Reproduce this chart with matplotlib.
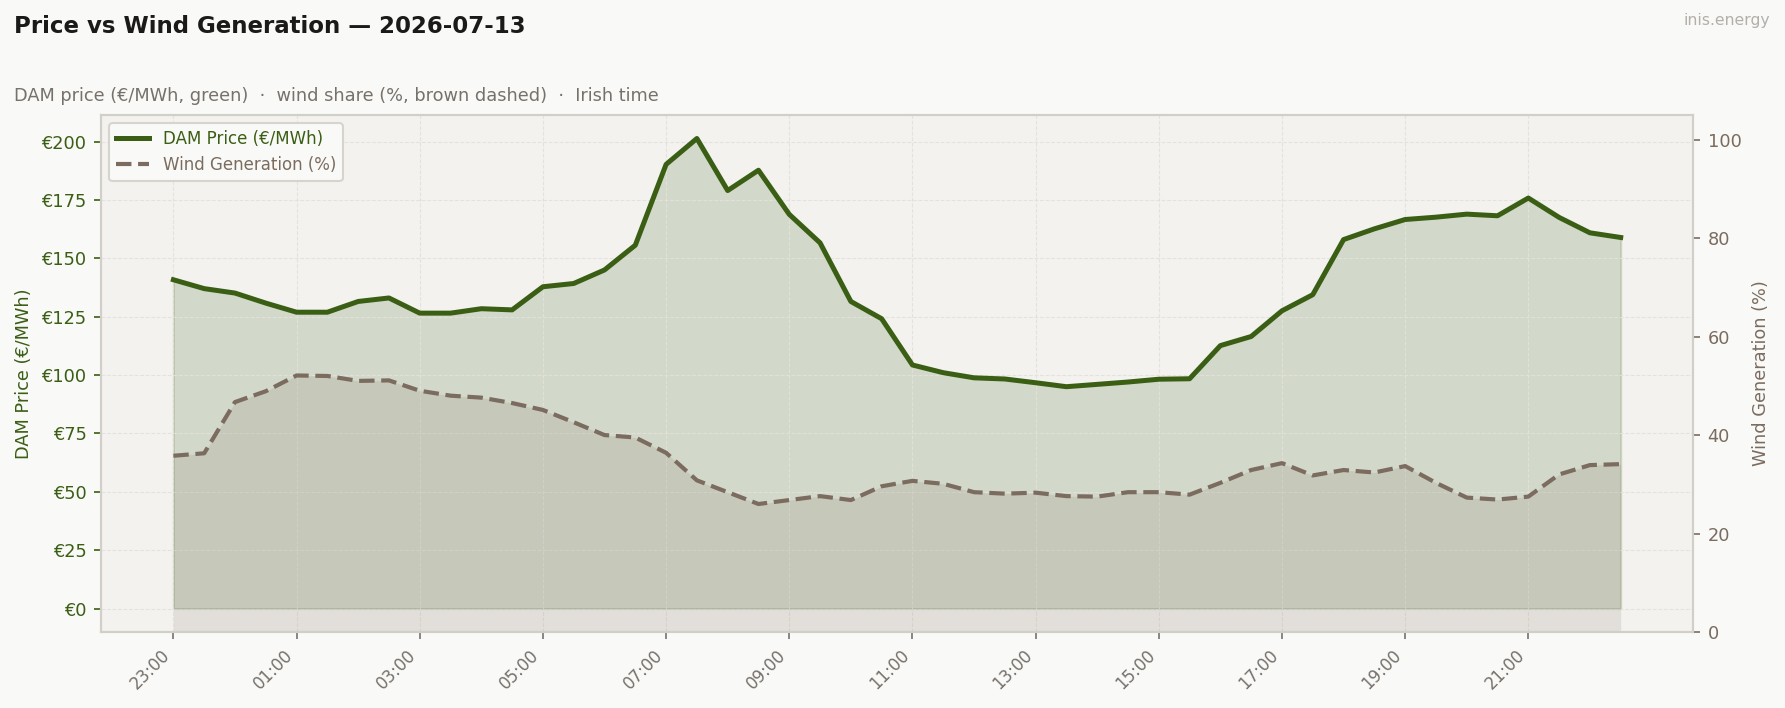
import numpy as np
import pandas as pd
import matplotlib
matplotlib.use("Agg")
import matplotlib.pyplot as plt
import matplotlib.dates as mdates
from matplotlib.ticker import FuncFormatter, FixedLocator

# half-hourly values, 23:00 -> 22:30 (Irish time)
start = "2026-07-12 23:00"
price = [140.8, 137.0, 135.1, 130.8, 126.9, 126.9, 131.5, 133.0, 126.5, 126.5,
         128.4, 127.9, 137.8, 139.2, 145.0, 155.6, 190.2, 201.3, 179.0, 187.7,
         168.8, 156.6, 131.5, 124.1, 104.3, 101.0, 98.8, 98.3, 96.7, 95.0,
         96.0, 97.0, 98.2, 98.4, 112.6, 116.5, 127.5, 134.4, 158.0, 162.6,
         166.6, 167.6, 168.9, 168.2, 175.8, 167.5, 160.9, 158.9]
wind = [35.8, 36.3, 46.7, 48.9, 52.1, 52.0, 51.0, 51.1, 49.0, 48.0,
        47.6, 46.5, 45.1, 42.6, 40.0, 39.5, 36.4, 30.8, 28.4, 26.0,
        26.8, 27.6, 26.8, 29.6, 30.7, 30.1, 28.4, 28.1, 28.3, 27.6,
        27.5, 28.4, 28.4, 27.9, 30.3, 32.9, 34.3, 31.8, 32.9, 32.4,
        33.7, 30.3, 27.3, 26.9, 27.5, 32.0, 33.9, 34.1]
times = pd.date_range(start, periods=len(price), freq="30min")

green = "#3b5e15"
brown = "#7b6c5f"
grey_txt = "#77716b"

fig = plt.figure(figsize=(11.9, 4.72), dpi=150, facecolor="#f9f9f7")
ax = fig.add_axes([0.0566, 0.1073, 0.8919, 0.7303])
ax.set_facecolor("#f3f2ef")
ax2 = ax.twinx()

ax.fill_between(times, 0, price, color=green, alpha=0.17, lw=1)
l1, = ax.plot(times, price, color=green, lw=2.4, label="DAM Price (€/MWh)", zorder=3)

ax2.fill_between(times, 0, wind, color=brown, alpha=0.14, lw=0)
l2, = ax2.plot(times, wind, color=brown, lw=2.0, ls="--", label="Wind Generation (%)", zorder=3)
ax2.set_ylim(0, 105)

ax.yaxis.set_major_formatter(FuncFormatter(lambda v, p: f"€{v:.0f}"))
ax.xaxis.set_major_locator(FixedLocator(mdates.date2num(times[::4])))
ax.xaxis.set_major_formatter(mdates.DateFormatter("%H:%M"))
for lab in ax.get_xticklabels():
    lab.set_rotation(45)
    lab.set_ha("right")

ax.tick_params(axis="x", colors=grey_txt, labelsize=8)
ax.tick_params(axis="y", colors=green, labelsize=8.5)
ax2.tick_params(axis="y", colors=brown, labelsize=8.5)
ax.set_ylabel("DAM Price (€/MWh)", color=green, fontsize=8.5)
ax2.set_ylabel("Wind Generation (%)", color=brown, fontsize=8.5, labelpad=5)

ax.grid(True, ls="--", lw=0.5, color="#e4e1dc", alpha=0.9)
for a in (ax, ax2):
    for s in a.spines.values():
        s.set_color("#d2cec8")
        s.set_linewidth(1)

leg = ax2.legend(handles=[l1, l2], loc="upper left", fontsize=8, frameon=True,
                 facecolor="#fafaf8", edgecolor="#d6d2cc", framealpha=0.95)
leg.get_texts()[0].set_color(green)
leg.get_texts()[1].set_color(brown)

fig.text(0.008, 0.953, "Price vs Wind Generation — 2026-07-13", fontsize=11,
         fontweight="bold", color="#1c1a18", va="baseline")
fig.text(0.008, 0.857, "DAM price (€/MWh, green)  ·  wind share (%, brown dashed)  ·  Irish time",
         fontsize=8.5, color=grey_txt, va="baseline")
fig.text(0.9916, 0.971, "inis.energy", fontsize=7.5, color="#b3afaa", ha="right", va="center")

fig.savefig("out.png", dpi=150, facecolor=fig.get_facecolor())
